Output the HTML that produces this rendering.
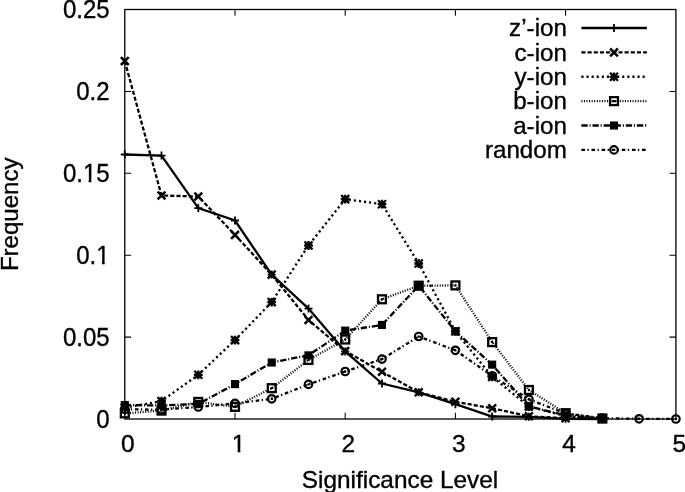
<!DOCTYPE html><html><head><meta charset="utf-8"><title>Frequency vs Significance Level</title>
<style>html,body{margin:0;padding:0;background:#fff}svg{display:block}text{font-family:"Liberation Sans",sans-serif;font-size:24px;fill:#000;stroke:#000;stroke-width:0.35px}</style></head><body>
<svg width="685" height="492" viewBox="0 0 685 492">
<rect width="685" height="492" fill="#fff"/>
<rect x="124.8" y="9.5" width="551.1" height="409.5" fill="none" stroke="#000" stroke-width="1.3"/>
<path d="M235.0 419.0v-6.3M235.0 9.5v6.3M345.2 419.0v-6.3M345.2 9.5v6.3M455.4 419.0v-6.3M455.4 9.5v6.3M565.6 419.0v-6.3M565.6 9.5v6.3M124.8 337.1h6.3M675.85 337.1h-6.3M124.8 255.2h6.3M675.85 255.2h-6.3M124.8 173.3h6.3M675.85 173.3h-6.3M124.8 91.4h6.3M675.85 91.4h-6.3" stroke="#000" stroke-width="1.05" fill="none"/>
<g transform="translate(109.6,427.5) scale(1,1.055)"><text text-anchor="end">0</text></g>
<g transform="translate(109.6,345.6) scale(1,1.055)"><text text-anchor="end">0.05</text></g>
<g transform="translate(109.6,263.7) scale(1,1.055)"><text text-anchor="end">0.1</text><rect x="-12.85" y="-2.45" width="5.22" height="4.2" fill="#fff"/><rect x="-4.87" y="-2.45" width="4.42" height="4.2" fill="#fff"/></g>
<g transform="translate(109.6,181.8) scale(1,1.055)"><text text-anchor="end">0.15</text><rect x="-26.19" y="-2.45" width="5.22" height="4.2" fill="#fff"/><rect x="-18.21" y="-2.45" width="4.42" height="4.2" fill="#fff"/></g>
<g transform="translate(109.6,99.9) scale(1,1.055)"><text text-anchor="end">0.2</text></g>
<g transform="translate(109.6,18.0) scale(1,1.055)"><text text-anchor="end">0.25</text></g>
<g transform="translate(127.8,451.5) scale(1.02,1.03)"><text text-anchor="middle">0</text></g>
<g transform="translate(238.6,451.5) scale(1.02,1.03)"><text text-anchor="middle">1</text><rect x="-6.18" y="-2.45" width="5.22" height="4.2" fill="#fff"/><rect x="1.80" y="-2.45" width="4.42" height="4.2" fill="#fff"/></g>
<g transform="translate(348.4,451.5) scale(1.02,1.03)"><text text-anchor="middle">2</text></g>
<g transform="translate(458.7,451.5) scale(1.02,1.03)"><text text-anchor="middle">3</text></g>
<g transform="translate(569.0,451.5) scale(1.02,1.03)"><text text-anchor="middle">4</text></g>
<g transform="translate(679.3,451.5) scale(1.02,1.03)"><text text-anchor="middle">5</text></g>
<text transform="translate(400.0,488.0) scale(1.016,1.0)" text-anchor="middle">Significance Level</text>
<text transform="translate(17.8,214.3) rotate(-90) scale(1.003,1.0)" text-anchor="middle">Frequency</text>
<polyline points="124.8,154.5 161.5,155.6 198.3,208.1 235.0,220.5 271.7,274.6 308.5,308.6 345.2,351.4 382.0,383.5 418.7,392.3 455.4,404.2 492.2,416.5 528.9,416.8 565.6,418.8 602.4,419.0" fill="none" stroke="#000" stroke-width="2.3" stroke-linejoin="miter"/>
<path d="M120.8 154.5H128.8M124.8 150.5V158.5" stroke="#000" stroke-width="1.8" fill="none"/>
<path d="M157.5 155.6H165.5M161.5 151.6V159.6" stroke="#000" stroke-width="1.8" fill="none"/>
<path d="M194.3 208.1H202.3M198.3 204.1V212.1" stroke="#000" stroke-width="1.8" fill="none"/>
<path d="M231.0 220.5H239.0M235.0 216.5V224.5" stroke="#000" stroke-width="1.8" fill="none"/>
<path d="M267.7 274.6H275.7M271.7 270.6V278.6" stroke="#000" stroke-width="1.8" fill="none"/>
<path d="M304.5 308.6H312.5M308.5 304.6V312.6" stroke="#000" stroke-width="1.8" fill="none"/>
<path d="M341.2 351.4H349.2M345.2 347.4V355.4" stroke="#000" stroke-width="1.8" fill="none"/>
<path d="M378.0 383.5H386.0M382.0 379.5V387.5" stroke="#000" stroke-width="1.8" fill="none"/>
<path d="M414.7 392.3H422.7M418.7 388.3V396.3" stroke="#000" stroke-width="1.8" fill="none"/>
<path d="M451.4 404.2H459.4M455.4 400.2V408.2" stroke="#000" stroke-width="1.8" fill="none"/>
<path d="M488.2 416.5H496.2M492.2 412.5V420.5" stroke="#000" stroke-width="1.8" fill="none"/>
<path d="M524.9 416.8H532.9M528.9 412.8V420.8" stroke="#000" stroke-width="1.8" fill="none"/>
<path d="M561.6 418.8H569.6M565.6 414.8V422.8" stroke="#000" stroke-width="1.8" fill="none"/>
<path d="M598.4 419.0H606.4M602.4 415.0V423.0" stroke="#000" stroke-width="1.8" fill="none"/>
<polyline points="124.8,61.1 161.5,195.5 198.3,196.5 235.0,234.9 271.7,274.6 308.5,320.0 345.2,351.1 382.0,371.8 418.7,392.3 455.4,401.8 492.2,408.3 528.9,416.3 565.6,418.2 602.4,418.8" fill="none" stroke="#000" stroke-width="2.3" stroke-dasharray="4.1 2.07" stroke-linejoin="miter"/>
<path d="M120.9 57.2L128.7 65.0M120.9 65.0L128.7 57.2" stroke="#000" stroke-width="2.5" fill="none"/>
<path d="M157.6 191.6L165.4 199.4M157.6 199.4L165.4 191.6" stroke="#000" stroke-width="2.5" fill="none"/>
<path d="M194.4 192.6L202.2 200.4M194.4 200.4L202.2 192.6" stroke="#000" stroke-width="2.5" fill="none"/>
<path d="M231.1 231.0L238.9 238.8M231.1 238.8L238.9 231.0" stroke="#000" stroke-width="2.5" fill="none"/>
<path d="M267.8 270.7L275.6 278.5M267.8 278.5L275.6 270.7" stroke="#000" stroke-width="2.5" fill="none"/>
<path d="M304.6 316.1L312.4 323.9M304.6 323.9L312.4 316.1" stroke="#000" stroke-width="2.5" fill="none"/>
<path d="M341.3 347.2L349.1 355.0M341.3 355.0L349.1 347.2" stroke="#000" stroke-width="2.5" fill="none"/>
<path d="M378.1 367.9L385.9 375.7M378.1 375.7L385.9 367.9" stroke="#000" stroke-width="2.5" fill="none"/>
<path d="M414.8 388.4L422.6 396.2M414.8 396.2L422.6 388.4" stroke="#000" stroke-width="2.5" fill="none"/>
<path d="M451.5 397.9L459.3 405.7M451.5 405.7L459.3 397.9" stroke="#000" stroke-width="2.5" fill="none"/>
<path d="M488.3 404.4L496.1 412.2M488.3 412.2L496.1 404.4" stroke="#000" stroke-width="2.5" fill="none"/>
<path d="M525.0 412.4L532.8 420.2M525.0 420.2L532.8 412.4" stroke="#000" stroke-width="2.5" fill="none"/>
<path d="M561.7 414.3L569.5 422.1M561.7 422.1L569.5 414.3" stroke="#000" stroke-width="2.5" fill="none"/>
<path d="M598.5 414.9L606.3 422.7M598.5 422.7L606.3 414.9" stroke="#000" stroke-width="2.5" fill="none"/>
<polyline points="124.8,407.6 161.5,401.1 198.3,374.8 235.0,340.1 271.7,302.1 308.5,245.5 345.2,199.1 382.0,204.2 418.7,263.5 455.4,331.3 492.2,376.9 528.9,406.5 565.6,416.1 602.4,418.8" fill="none" stroke="#000" stroke-width="2.3" stroke-dasharray="2.1 3" stroke-linejoin="miter"/>
<path d="M120.4 407.6H129.2M124.8 403.2V412.0M120.8 403.6L128.8 411.6M120.8 411.6L128.8 403.6" stroke="#000" stroke-width="2.3" fill="none"/>
<path d="M157.1 401.1H165.9M161.5 396.7V405.5M157.5 397.1L165.5 405.1M157.5 405.1L165.5 397.1" stroke="#000" stroke-width="2.3" fill="none"/>
<path d="M193.9 374.8H202.7M198.3 370.4V379.2M194.3 370.8L202.3 378.8M194.3 378.8L202.3 370.8" stroke="#000" stroke-width="2.3" fill="none"/>
<path d="M230.6 340.1H239.4M235.0 335.7V344.5M231.0 336.1L239.0 344.1M231.0 344.1L239.0 336.1" stroke="#000" stroke-width="2.3" fill="none"/>
<path d="M267.3 302.1H276.1M271.7 297.7V306.5M267.7 298.1L275.7 306.1M267.7 306.1L275.7 298.1" stroke="#000" stroke-width="2.3" fill="none"/>
<path d="M304.1 245.5H312.9M308.5 241.1V249.9M304.5 241.5L312.5 249.5M304.5 249.5L312.5 241.5" stroke="#000" stroke-width="2.3" fill="none"/>
<path d="M340.8 199.1H349.6M345.2 194.7V203.5M341.2 195.1L349.2 203.1M341.2 203.1L349.2 195.1" stroke="#000" stroke-width="2.3" fill="none"/>
<path d="M377.6 204.2H386.4M382.0 199.8V208.6M378.0 200.2L386.0 208.2M378.0 208.2L386.0 200.2" stroke="#000" stroke-width="2.3" fill="none"/>
<path d="M414.3 263.5H423.1M418.7 259.1V267.9M414.7 259.5L422.7 267.5M414.7 267.5L422.7 259.5" stroke="#000" stroke-width="2.3" fill="none"/>
<path d="M451.0 331.3H459.8M455.4 326.9V335.7M451.4 327.3L459.4 335.3M451.4 335.3L459.4 327.3" stroke="#000" stroke-width="2.3" fill="none"/>
<path d="M487.8 376.9H496.6M492.2 372.5V381.3M488.2 372.9L496.2 380.9M488.2 380.9L496.2 372.9" stroke="#000" stroke-width="2.3" fill="none"/>
<path d="M524.5 406.5H533.3M528.9 402.1V410.9M524.9 402.5L532.9 410.5M524.9 410.5L532.9 402.5" stroke="#000" stroke-width="2.3" fill="none"/>
<path d="M561.2 416.1H570.0M565.6 411.7V420.5M561.6 412.1L569.6 420.1M561.6 420.1L569.6 412.1" stroke="#000" stroke-width="2.3" fill="none"/>
<path d="M598.0 418.8H606.8M602.4 414.4V423.2M598.4 414.8L606.4 422.8M598.4 422.8L606.4 414.8" stroke="#000" stroke-width="2.3" fill="none"/>
<polyline points="124.8,413.4 161.5,410.6 198.3,401.9 235.0,406.8 271.7,388.2 308.5,359.9 345.2,339.5 382.0,299.3 418.7,285.7 455.4,285.4 492.2,342.1 528.9,390.0 565.6,413.2 602.4,418.5" fill="none" stroke="#000" stroke-width="2.3" stroke-dasharray="1.03 1.53" stroke-linejoin="miter"/>
<rect x="120.85" y="409.41" width="7.9" height="7.9" stroke="#000" stroke-width="2.3" fill="none"/><circle cx="124.8" cy="413.4" r="1.2" fill="#000"/>
<rect x="157.59" y="406.63" width="7.9" height="7.9" stroke="#000" stroke-width="2.3" fill="none"/><circle cx="161.5" cy="410.6" r="1.2" fill="#000"/>
<rect x="194.32" y="397.97" width="7.9" height="7.9" stroke="#000" stroke-width="2.3" fill="none"/><circle cx="198.3" cy="401.9" r="1.2" fill="#000"/>
<rect x="231.06" y="402.87" width="7.9" height="7.9" stroke="#000" stroke-width="2.3" fill="none"/><circle cx="235.0" cy="406.8" r="1.2" fill="#000"/>
<rect x="267.80" y="384.24" width="7.9" height="7.9" stroke="#000" stroke-width="2.3" fill="none"/><circle cx="271.7" cy="388.2" r="1.2" fill="#000"/>
<rect x="304.53" y="355.97" width="7.9" height="7.9" stroke="#000" stroke-width="2.3" fill="none"/><circle cx="308.5" cy="359.9" r="1.2" fill="#000"/>
<rect x="341.27" y="335.54" width="7.9" height="7.9" stroke="#000" stroke-width="2.3" fill="none"/><circle cx="345.2" cy="339.5" r="1.2" fill="#000"/>
<rect x="378.01" y="295.33" width="7.9" height="7.9" stroke="#000" stroke-width="2.3" fill="none"/><circle cx="382.0" cy="299.3" r="1.2" fill="#000"/>
<rect x="414.74" y="281.76" width="7.9" height="7.9" stroke="#000" stroke-width="2.3" fill="none"/><circle cx="418.7" cy="285.7" r="1.2" fill="#000"/>
<rect x="451.48" y="281.44" width="7.9" height="7.9" stroke="#000" stroke-width="2.3" fill="none"/><circle cx="455.4" cy="285.4" r="1.2" fill="#000"/>
<rect x="488.22" y="338.15" width="7.9" height="7.9" stroke="#000" stroke-width="2.3" fill="none"/><circle cx="492.2" cy="342.1" r="1.2" fill="#000"/>
<rect x="524.95" y="386.04" width="7.9" height="7.9" stroke="#000" stroke-width="2.3" fill="none"/><circle cx="528.9" cy="390.0" r="1.2" fill="#000"/>
<rect x="561.69" y="409.25" width="7.9" height="7.9" stroke="#000" stroke-width="2.3" fill="none"/><circle cx="565.6" cy="413.2" r="1.2" fill="#000"/>
<rect x="598.43" y="414.56" width="7.9" height="7.9" stroke="#000" stroke-width="2.3" fill="none"/><circle cx="602.4" cy="418.5" r="1.2" fill="#000"/>
<polyline points="124.8,405.0 161.5,405.5 198.3,403.9 235.0,384.1 271.7,362.5 308.5,355.3 345.2,330.7 382.0,324.9 418.7,285.7 455.4,331.3 492.2,364.7 528.9,406.5 565.6,415.3 602.4,418.8" fill="none" stroke="#000" stroke-width="2.3" stroke-dasharray="6.3 1.85 1.1 1.85" stroke-linejoin="miter"/>
<rect x="120.75" y="400.97" width="8.1" height="8.1" fill="#000"/>
<rect x="157.49" y="401.47" width="8.1" height="8.1" fill="#000"/>
<rect x="194.22" y="399.83" width="8.1" height="8.1" fill="#000"/>
<rect x="230.96" y="380.05" width="8.1" height="8.1" fill="#000"/>
<rect x="267.70" y="358.48" width="8.1" height="8.1" fill="#000"/>
<rect x="304.43" y="351.29" width="8.1" height="8.1" fill="#000"/>
<rect x="341.17" y="326.61" width="8.1" height="8.1" fill="#000"/>
<rect x="377.91" y="320.89" width="8.1" height="8.1" fill="#000"/>
<rect x="414.64" y="281.66" width="8.1" height="8.1" fill="#000"/>
<rect x="451.38" y="327.26" width="8.1" height="8.1" fill="#000"/>
<rect x="488.12" y="360.61" width="8.1" height="8.1" fill="#000"/>
<rect x="524.85" y="402.45" width="8.1" height="8.1" fill="#000"/>
<rect x="561.59" y="411.27" width="8.1" height="8.1" fill="#000"/>
<rect x="598.33" y="414.79" width="8.1" height="8.1" fill="#000"/>
<polyline points="124.8,409.4 161.5,409.6 198.3,407.0 235.0,403.4 271.7,398.8 308.5,384.4 345.2,371.5 382.0,359.1 418.7,336.5 455.4,350.3 492.2,375.9 528.9,399.3 565.6,413.5 602.4,418.2 639.1,418.8 675.9,419.0" fill="none" stroke="#000" stroke-width="2.3" stroke-dasharray="3.6 2.4 1.3 2.8" stroke-linejoin="miter"/>
<circle cx="124.8" cy="409.4" r="3.75" stroke="#000" stroke-width="2.2" fill="none"/><circle cx="124.8" cy="409.4" r="1.2" fill="#000"/>
<circle cx="161.5" cy="409.6" r="3.75" stroke="#000" stroke-width="2.2" fill="none"/><circle cx="161.5" cy="409.6" r="1.2" fill="#000"/>
<circle cx="198.3" cy="407.0" r="3.75" stroke="#000" stroke-width="2.2" fill="none"/><circle cx="198.3" cy="407.0" r="1.2" fill="#000"/>
<circle cx="235.0" cy="403.4" r="3.75" stroke="#000" stroke-width="2.2" fill="none"/><circle cx="235.0" cy="403.4" r="1.2" fill="#000"/>
<circle cx="271.7" cy="398.8" r="3.75" stroke="#000" stroke-width="2.2" fill="none"/><circle cx="271.7" cy="398.8" r="1.2" fill="#000"/>
<circle cx="308.5" cy="384.4" r="3.75" stroke="#000" stroke-width="2.2" fill="none"/><circle cx="308.5" cy="384.4" r="1.2" fill="#000"/>
<circle cx="345.2" cy="371.5" r="3.75" stroke="#000" stroke-width="2.2" fill="none"/><circle cx="345.2" cy="371.5" r="1.2" fill="#000"/>
<circle cx="382.0" cy="359.1" r="3.75" stroke="#000" stroke-width="2.2" fill="none"/><circle cx="382.0" cy="359.1" r="1.2" fill="#000"/>
<circle cx="418.7" cy="336.5" r="3.75" stroke="#000" stroke-width="2.2" fill="none"/><circle cx="418.7" cy="336.5" r="1.2" fill="#000"/>
<circle cx="455.4" cy="350.3" r="3.75" stroke="#000" stroke-width="2.2" fill="none"/><circle cx="455.4" cy="350.3" r="1.2" fill="#000"/>
<circle cx="492.2" cy="375.9" r="3.75" stroke="#000" stroke-width="2.2" fill="none"/><circle cx="492.2" cy="375.9" r="1.2" fill="#000"/>
<circle cx="528.9" cy="399.3" r="3.75" stroke="#000" stroke-width="2.2" fill="none"/><circle cx="528.9" cy="399.3" r="1.2" fill="#000"/>
<circle cx="565.6" cy="413.5" r="3.75" stroke="#000" stroke-width="2.2" fill="none"/><circle cx="565.6" cy="413.5" r="1.2" fill="#000"/>
<circle cx="602.4" cy="418.2" r="3.75" stroke="#000" stroke-width="2.2" fill="none"/><circle cx="602.4" cy="418.2" r="1.2" fill="#000"/>
<circle cx="639.1" cy="418.8" r="3.75" stroke="#000" stroke-width="2.2" fill="none"/><circle cx="639.1" cy="418.8" r="1.2" fill="#000"/>
<circle cx="675.9" cy="419.0" r="3.75" stroke="#000" stroke-width="2.2" fill="none"/><circle cx="675.9" cy="419.0" r="1.2" fill="#000"/>
<text transform="translate(566.9,36.3) scale(1.008,1.0)" text-anchor="end">z’-ion</text>
<path d="M581.4 28.00H646.9" stroke="#000" stroke-width="2.3" fill="none"/>
<path d="M610.0 28.0H618.0M614.0 24.0V32.0" stroke="#000" stroke-width="1.8" fill="none"/>
<text transform="translate(566.9,60.7) scale(1.008,1.0)" text-anchor="end">c-ion</text>
<path d="M581.4 52.38H646.9" stroke="#000" stroke-width="2.3" stroke-dasharray="4.1 2.07" fill="none"/>
<path d="M610.1 48.5L617.9 56.3M610.1 56.3L617.9 48.5" stroke="#000" stroke-width="2.5" fill="none"/>
<text transform="translate(566.9,85.1) scale(1.008,1.0)" text-anchor="end">y-ion</text>
<path d="M581.4 76.76H646.9" stroke="#000" stroke-width="2.3" stroke-dasharray="2.1 3" fill="none"/>
<path d="M609.6 76.8H618.4M614.0 72.4V81.2M610.0 72.8L618.0 80.8M610.0 80.8L618.0 72.8" stroke="#000" stroke-width="2.3" fill="none"/>
<text transform="translate(566.9,109.4) scale(1.008,1.0)" text-anchor="end">b-ion</text>
<path d="M581.4 101.14H646.9" stroke="#000" stroke-width="2.3" stroke-dasharray="1.03 1.53" fill="none"/>
<rect x="610.05" y="97.19" width="7.9" height="7.9" stroke="#000" stroke-width="2.3" fill="none"/><rect x="611.6" y="100.0" width="4.8" height="2.2" fill="#000"/>
<text transform="translate(566.9,133.8) scale(1.008,1.0)" text-anchor="end">a-ion</text>
<path d="M581.4 125.52H646.9" stroke="#000" stroke-width="2.3" stroke-dasharray="6.3 1.85 1.1 1.85" fill="none"/>
<rect x="609.95" y="121.47" width="8.1" height="8.1" fill="#000"/>
<text transform="translate(566.9,158.2) scale(1.008,1.0)" text-anchor="end">random</text>
<path d="M581.4 149.90H646.9" stroke="#000" stroke-width="2.3" stroke-dasharray="3.6 2.4 1.3 2.8" fill="none"/>
<circle cx="614.0" cy="149.9" r="3.75" stroke="#000" stroke-width="2.2" fill="none"/><circle cx="614.0" cy="149.9" r="1.2" fill="#000"/>
</svg></body></html>
